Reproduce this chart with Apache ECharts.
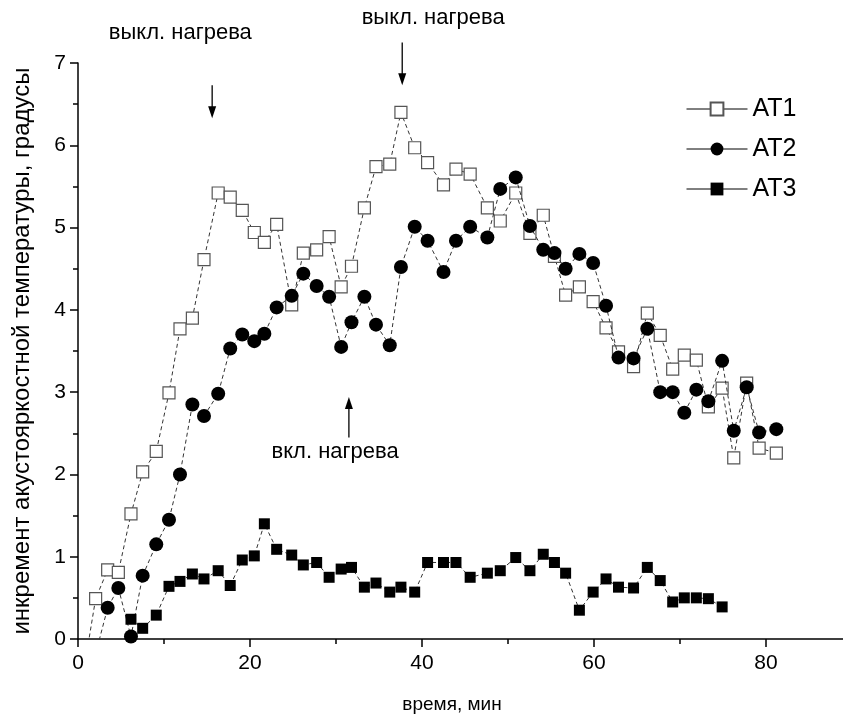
<!DOCTYPE html>
<html>
<head>
<meta charset="utf-8">
<script src="https://cdn.jsdelivr.net/npm/echarts@6/dist/echarts.min.js"></script>
<style>
html,body{margin:0;padding:0;background:#fff;}
#chart{width:843px;height:721px;}
</style>
</head>
<body>
<div id="chart"></div>
<script>
// ---- data ----
const times = [0.65, 2.05, 3.45, 4.69, 6.16, 7.52, 9.1, 10.58, 11.86, 13.3, 14.65, 16.3, 17.7, 19.1, 20.5, 21.67, 23.1, 24.85, 26.2, 27.75, 29.2, 30.6, 31.8, 33.3, 34.65, 36.25, 37.55, 39.15, 40.65, 42.5, 43.95, 45.6, 47.6, 49.1, 50.9, 52.55, 54.1, 55.4, 56.7, 58.3, 59.9, 61.4, 62.85, 64.6, 66.2, 67.7, 69.15, 70.5, 71.9, 73.3, 74.9, 76.25, 77.75, 79.2, 81.2];
const at1 = [-0.4, 0.49, 0.84, 0.81, 1.52, 2.03, 2.28, 2.99, 3.77, 3.90, 4.61, 5.42, 5.37, 5.21, 4.94, 4.82, 5.04, 4.06, 4.69, 4.73, 4.89, 4.28, 4.53, 5.24, 5.74, 5.77, 6.40, 5.97, 5.79, 5.52, 5.71, 5.65, 5.24, 5.08, 5.42, 4.93, 5.15, 4.65, 4.18, 4.28, 4.10, 3.78, 3.49, 3.31, 3.96, 3.69, 3.28, 3.45, 3.39, 2.82, 3.05, 2.20, 3.11, 2.32, 2.26];
const at2 = [null, -0.18, 0.38, 0.62, 0.03, 0.77, 1.15, 1.45, 2.00, 2.85, 2.71, 2.98, 3.53, 3.70, 3.62, 3.71, 4.03, 4.17, 4.44, 4.29, 4.16, 3.55, 3.85, 4.16, 3.82, 3.57, 4.52, 5.01, 4.84, 4.46, 4.84, 5.01, 4.88, 5.47, 5.61, 5.02, 4.73, 4.69, 4.50, 4.68, 4.57, 4.05, 3.42, 3.41, 3.77, 3.00, 3.00, 2.75, 3.03, 2.89, 3.38, 2.53, 3.06, 2.51, 2.55];
const at3 = [null, null, null, null, 0.24, 0.13, 0.29, 0.64, 0.70, 0.79, 0.73, 0.83, 0.65, 0.96, 1.01, 1.40, 1.09, 1.02, 0.90, 0.93, 0.75, 0.85, 0.87, 0.63, 0.68, 0.57, 0.63, 0.57, 0.93, 0.93, 0.93, 0.75, 0.80, 0.83, 0.99, 0.83, 1.03, 0.93, 0.80, 0.35, 0.57, 0.73, 0.63, 0.62, 0.87, 0.71, 0.45, 0.50, 0.50, 0.49, 0.39, null, null, null, null];
const seriesNames = ['AT1', 'AT2', 'AT3'];
const xTitle = 'время, мин';
const yTitle = 'инкремент акустояркостной температуры, градусы';
// annotations (data coordinates)
const annoTexts = ['выкл. нагрева', 'выкл. нагрева', 'вкл. нагрева'];
const annoTextAt = [[11.9, 7.36], [41.3, 7.55], [29.9, 2.27]];
const arrowFrom = [[15.6, 6.73], [37.7, 7.25], [31.5, 2.45]];
const arrowTo = [[15.6, 6.33], [37.7, 6.73], [31.5, 2.94]];

function pairs(vals) {
  const out = [];
  times.forEach((t, i) => { if (vals[i] !== null) out.push([t, vals[i]]); });
  return out;
}

const FONT = '"Liberation Sans", Arial, sans-serif';
const chart = echarts.init(document.getElementById('chart'), null, {renderer: 'canvas', width: 843, height: 721});

const lineStyle = {color: '#333', width: 1, type: [4, 3]};

chart.setOption({
  animation: false,
  backgroundColor: '#fff',
  grid: {left: 78, top: 63, width: 860, height: 576, containLabel: false, outerBoundsMode: 'none'},
  legend: {
    orient: 'vertical',
    left: 681, top: 90,
    itemWidth: 61, itemHeight: 16, itemGap: 12,
    textStyle: {fontFamily: FONT, fontSize: 25, color: '#000', lineHeight: 28},
    lineStyle: {type: 'solid', color: '#000', width: 1},
    data: seriesNames
  },
  xAxis: {
    type: 'value', min: 0, max: 100, interval: 20,
    axisLine: {lineStyle: {color: '#000', width: 1.5}},
    axisTick: {length: 8, lineStyle: {color: '#000', width: 1.5}},
    minorTick: {show: true, splitNumber: 2, length: 5, lineStyle: {color: '#000', width: 1.5}},
    axisLabel: {fontFamily: FONT, fontSize: 21, color: '#000', margin: 14, showMaxLabel: false},
    splitLine: {show: false}
  },
  yAxis: {
    type: 'value', min: 0, max: 7, interval: 1,
    axisLine: {show: true, lineStyle: {color: '#000', width: 1.5}},
    axisTick: {show: true, length: 8, lineStyle: {color: '#000', width: 1.5}},
    minorTick: {show: true, splitNumber: 2, length: 5, lineStyle: {color: '#000', width: 1.5}},
    axisLabel: {fontFamily: FONT, fontSize: 21, color: '#000', margin: 12},
    splitLine: {show: false}
  },
  series: [
    {
      name: seriesNames[0], type: 'line', data: pairs(at1),
      symbol: 'rect', symbolSize: 12,
      itemStyle: {color: '#fff', borderColor: '#555', borderWidth: 1.2},
      lineStyle: lineStyle, clip: true, z: 2
    },
    {
      name: seriesNames[1], type: 'line', data: pairs(at2),
      symbol: 'circle', symbolSize: 14,
      itemStyle: {color: '#000', borderColor: '#000', borderWidth: 0},
      lineStyle: lineStyle, clip: true, z: 3
    },
    {
      name: seriesNames[2], type: 'line', data: pairs(at3),
      symbol: 'rect', symbolSize: 11,
      itemStyle: {color: '#000', borderColor: '#000', borderWidth: 0},
      lineStyle: lineStyle, clip: true, z: 4
    }
  ]
});

// graphic annotations
const P = (c) => chart.convertToPixel({xAxisIndex: 0, yAxisIndex: 0}, c);
const elements = [];
annoTexts.forEach((txt, i) => {
  const p = P(annoTextAt[i]);
  elements.push({
    type: 'text', x: p[0], y: p[1], silent: true,
    style: {text: txt, font: '22px ' + FONT, fill: '#000', align: 'center', verticalAlign: 'middle'}
  });
  const a = P(arrowFrom[i]), b = P(arrowTo[i]);
  const dir = Math.sign(b[1] - a[1]);
  const headLen = 12, headW = 4;
  elements.push({
    type: 'line', silent: true,
    shape: {x1: a[0], y1: a[1], x2: b[0], y2: b[1] - dir * headLen * 0.6},
    style: {stroke: '#000', lineWidth: 1.3}
  });
  elements.push({
    type: 'polygon', silent: true,
    shape: {points: [[b[0], b[1]], [b[0] - headW, b[1] - dir * headLen], [b[0] + headW, b[1] - dir * headLen]]},
    style: {fill: '#000'}
  });
});
elements.push({
  type: 'text', x: 452, y: 705, silent: true,
  style: {text: xTitle, font: '19px ' + FONT, fill: '#000', align: 'center', verticalAlign: 'middle'}
});
elements.push({
  type: 'text', x: 22, y: 351, rotation: Math.PI / 2, silent: true,
  style: {text: yTitle, font: '24px ' + FONT, fill: '#000', align: 'center', verticalAlign: 'middle'}
});
chart.setOption({graphic: {elements: elements}});
</script>
</body>
</html>
